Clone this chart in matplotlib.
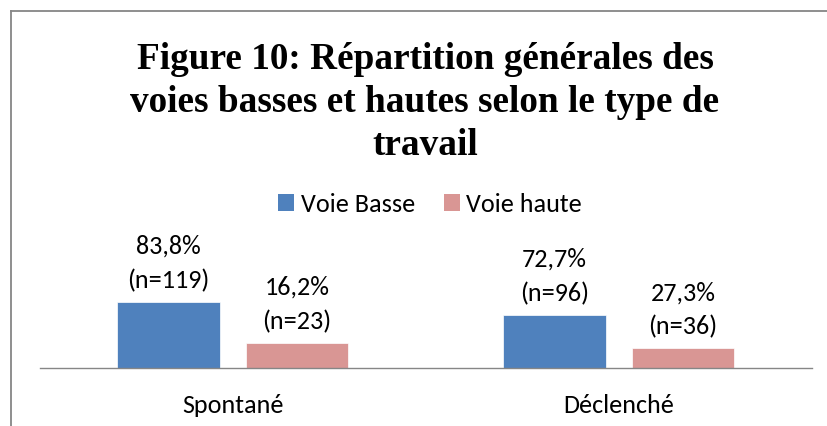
import matplotlib.pyplot as plt
from matplotlib.lines import Line2D
from matplotlib.patches import Patch

# Données
categories = ["Spontané", "Déclenché"]
series = ["Voie Basse", "Voie haute"]
pct_basse = [83.8, 72.7]
pct_haute = [16.2, 27.3]
n_basse = [119, 96]
n_haute = [23, 36]
# hauteurs des barres telles que dessinées (échelle du graphique d'origine)
haut_basse = [83.8, 67.3]
haut_haute = [31.7, 25.0]

couleurs = ["#4F81BD", "#D99694"]
police = ["Carlito", "Lato", "DejaVu Sans"]
taille = 18.8

W, H = 827, 427
fig = plt.figure(figsize=(W / 100, H / 100), dpi=100)

# cadre (haut et gauche visibles)
gris = "#868686"
fig.add_artist(Line2D([10.5 / W, 1.0], [1 - 12 / H, 1 - 12 / H], color=gris, lw=1.3))
fig.add_artist(Line2D([10.5 / W, 10.5 / W], [1 - 12 / H, 0.0], color=gris, lw=1.3))

# titre
fig.text(425 / W, 1 - 42 / H,
         "Figure 10: Répartition générales des\nvoies basses et hautes selon le type de\ntravail",
         ha="center", va="top", ma="center", fontsize=26.8, fontweight="bold",
         family=["Liberation Serif", "DejaVu Serif"], linespacing=1.29)

ax = fig.add_axes([40 / W, (H - 369) / H, (811.7 - 40) / W, (369 - 190) / H])
ax.set_xlim(-0.5, 1.5)
ax.set_ylim(0, 179 / (66 / 83.8))

x = range(len(categories))
larg = 0.266
dx = 0.1665
b1 = ax.bar([i - dx for i in x], haut_basse, larg, color=couleurs[0], edgecolor="white", linewidth=0.5)
b2 = ax.bar([i + dx for i in x], haut_haute, larg, color=couleurs[1], edgecolor="white", linewidth=0.5)

def etiquettes(barres, pcts, ns):
    for rect, p, n in zip(barres, pcts, ns):
        txt = f"{p:.1f}%".replace(".", ",") + f"\n(n={n})"
        ax.annotate(txt, (rect.get_x() + rect.get_width() / 2, rect.get_height()),
                    xytext=(0, 8), textcoords="offset points", ha="center", va="bottom",
                    fontsize=taille, family=police, linespacing=1.55, annotation_clip=False)

etiquettes(b1, pct_basse, n_basse)
etiquettes(b2, pct_haute, n_haute)

for s in ["top", "left", "right"]:
    ax.spines[s].set_visible(False)
ax.spines["bottom"].set_color(gris)
ax.spines["bottom"].set_linewidth(1.0)
ax.set_yticks([])
ax.set_xticks(list(x))
ax.set_xticklabels(categories, fontsize=taille, family=police)
ax.tick_params(axis="x", length=0, pad=18)
ax.patch.set_visible(False)

handles = [Patch(facecolor=c, edgecolor="none") for c in couleurs]
fig.legend(handles, series, loc="center", bbox_to_anchor=(430 / W, 1 - 205 / H), ncol=2,
           frameon=False, prop={"family": police, "size": taille},
           handlelength=0.62, handleheight=0.62, handletextpad=0.25, columnspacing=1.1)

fig.savefig("out.png", dpi=100)
